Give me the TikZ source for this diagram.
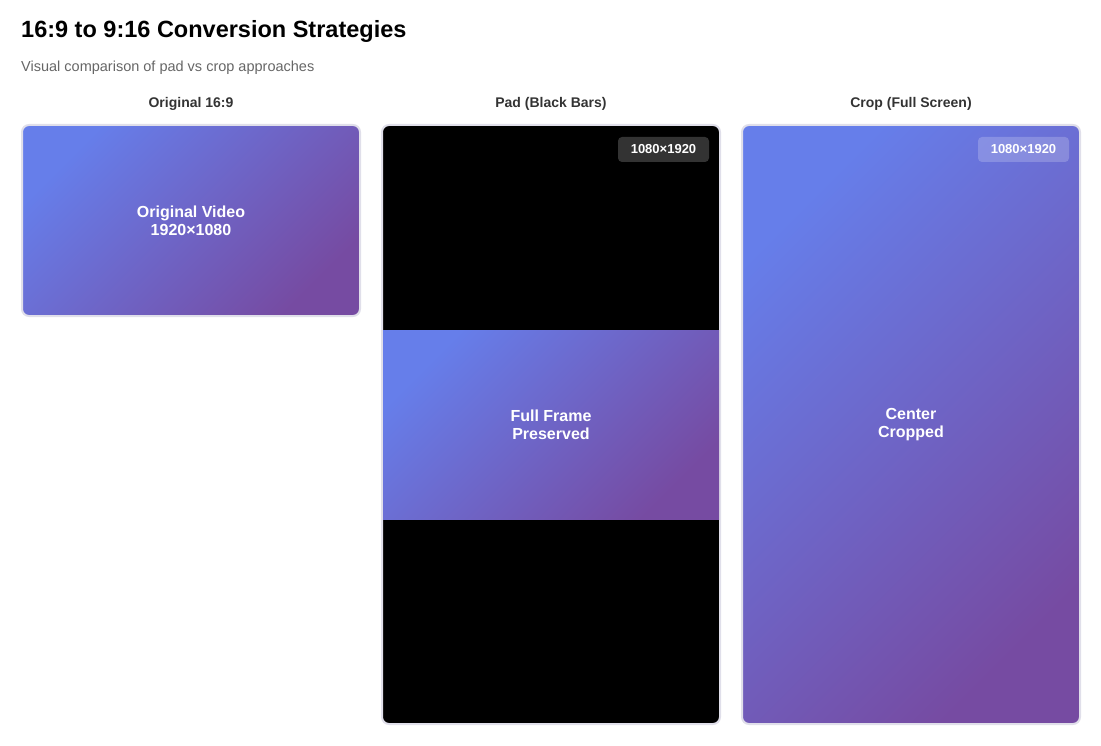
\documentclass[tikz,border=0pt]{standalone}
\usepackage{fontspec}
\setmainfont{Liberation Sans}
\usetikzlibrary{positioning}
\definecolor{gradTop}{HTML}{667EEA}
\definecolor{gradBottom}{HTML}{764BA2}
\definecolor{frameLine}{HTML}{E0DFEA}
\definecolor{textHead}{HTML}{333333}
\definecolor{textSub}{HTML}{666666}
\definecolor{badgeDark}{HTML}{333333}

\begin{document}
\begin{tikzpicture}[x=1pt, y=-1pt,
  frame/.style={draw=frameLine, line width=2pt, rounded corners=7pt, inner sep=0pt, outer sep=0pt, minimum width=338pt},
  video/.style={shading=axis, top color=gradTop, bottom color=gradBottom, shading angle=45},
  header/.style={anchor=base, font=\fontsize{14}{16}\selectfont\bfseries, text=textHead},
  caption/.style={font=\fontsize{16}{18}\selectfont\bfseries, text=white, align=center},
  badge/.style={rounded corners=4pt, minimum width=91pt, minimum height=25pt, inner sep=0pt, outer sep=0pt, text=white, text opacity=1, font=\fontsize{13}{15}\selectfont\bfseries}]
\useasboundingbox (0,0) rectangle (1101,746);
\node[anchor=base west, inner sep=0pt, font=\fontsize{23.5}{27}\selectfont\bfseries] (title) at (21,38) {16:9 to 9:16 Conversion Strategies};
\node[anchor=base west, inner sep=0pt, font=\fontsize{14.5}{17}\selectfont, text=textSub] (subtitle) at (21,72) {Visual comparison of pad vs crop approaches};
% the three frames
\node[frame, video, minimum height=191pt] (orig) at (191,220.5) {};
\node[frame, fill=black, minimum height=599pt] (pad) at (551,424.5) {};
\node[video, minimum width=336pt, minimum height=189pt, inner sep=0pt] (band) at (pad.center) {};
\node[frame, video, minimum height=599pt] (crop) at (911,424.5) {};
% headers
\node[header] (origHead) at ([yshift=17pt]orig.north) {Original 16:9};
\node[header] (padHead) at ([yshift=17pt]pad.north) {Pad (Black Bars)};
\node[header] (cropHead) at ([yshift=17pt]crop.north) {Crop (Full Screen)};
% captions
\node[caption] (origText) at (orig.center) {Original Video\\1920×1080};
\node[caption] (bandText) at (band.center) {Full Frame\\Preserved};
\node[caption] (cropText) at (crop.center) {Center\\Cropped};
% badges
\node[badge, fill=badgeDark, below left=12pt and 11pt of pad.north east] (padBadge) {1080×1920};
\node[badge, fill=white, fill opacity=0.2, below left=12pt and 11pt of crop.north east] (cropBadge) {1080×1920};
\end{tikzpicture}
\end{document}
